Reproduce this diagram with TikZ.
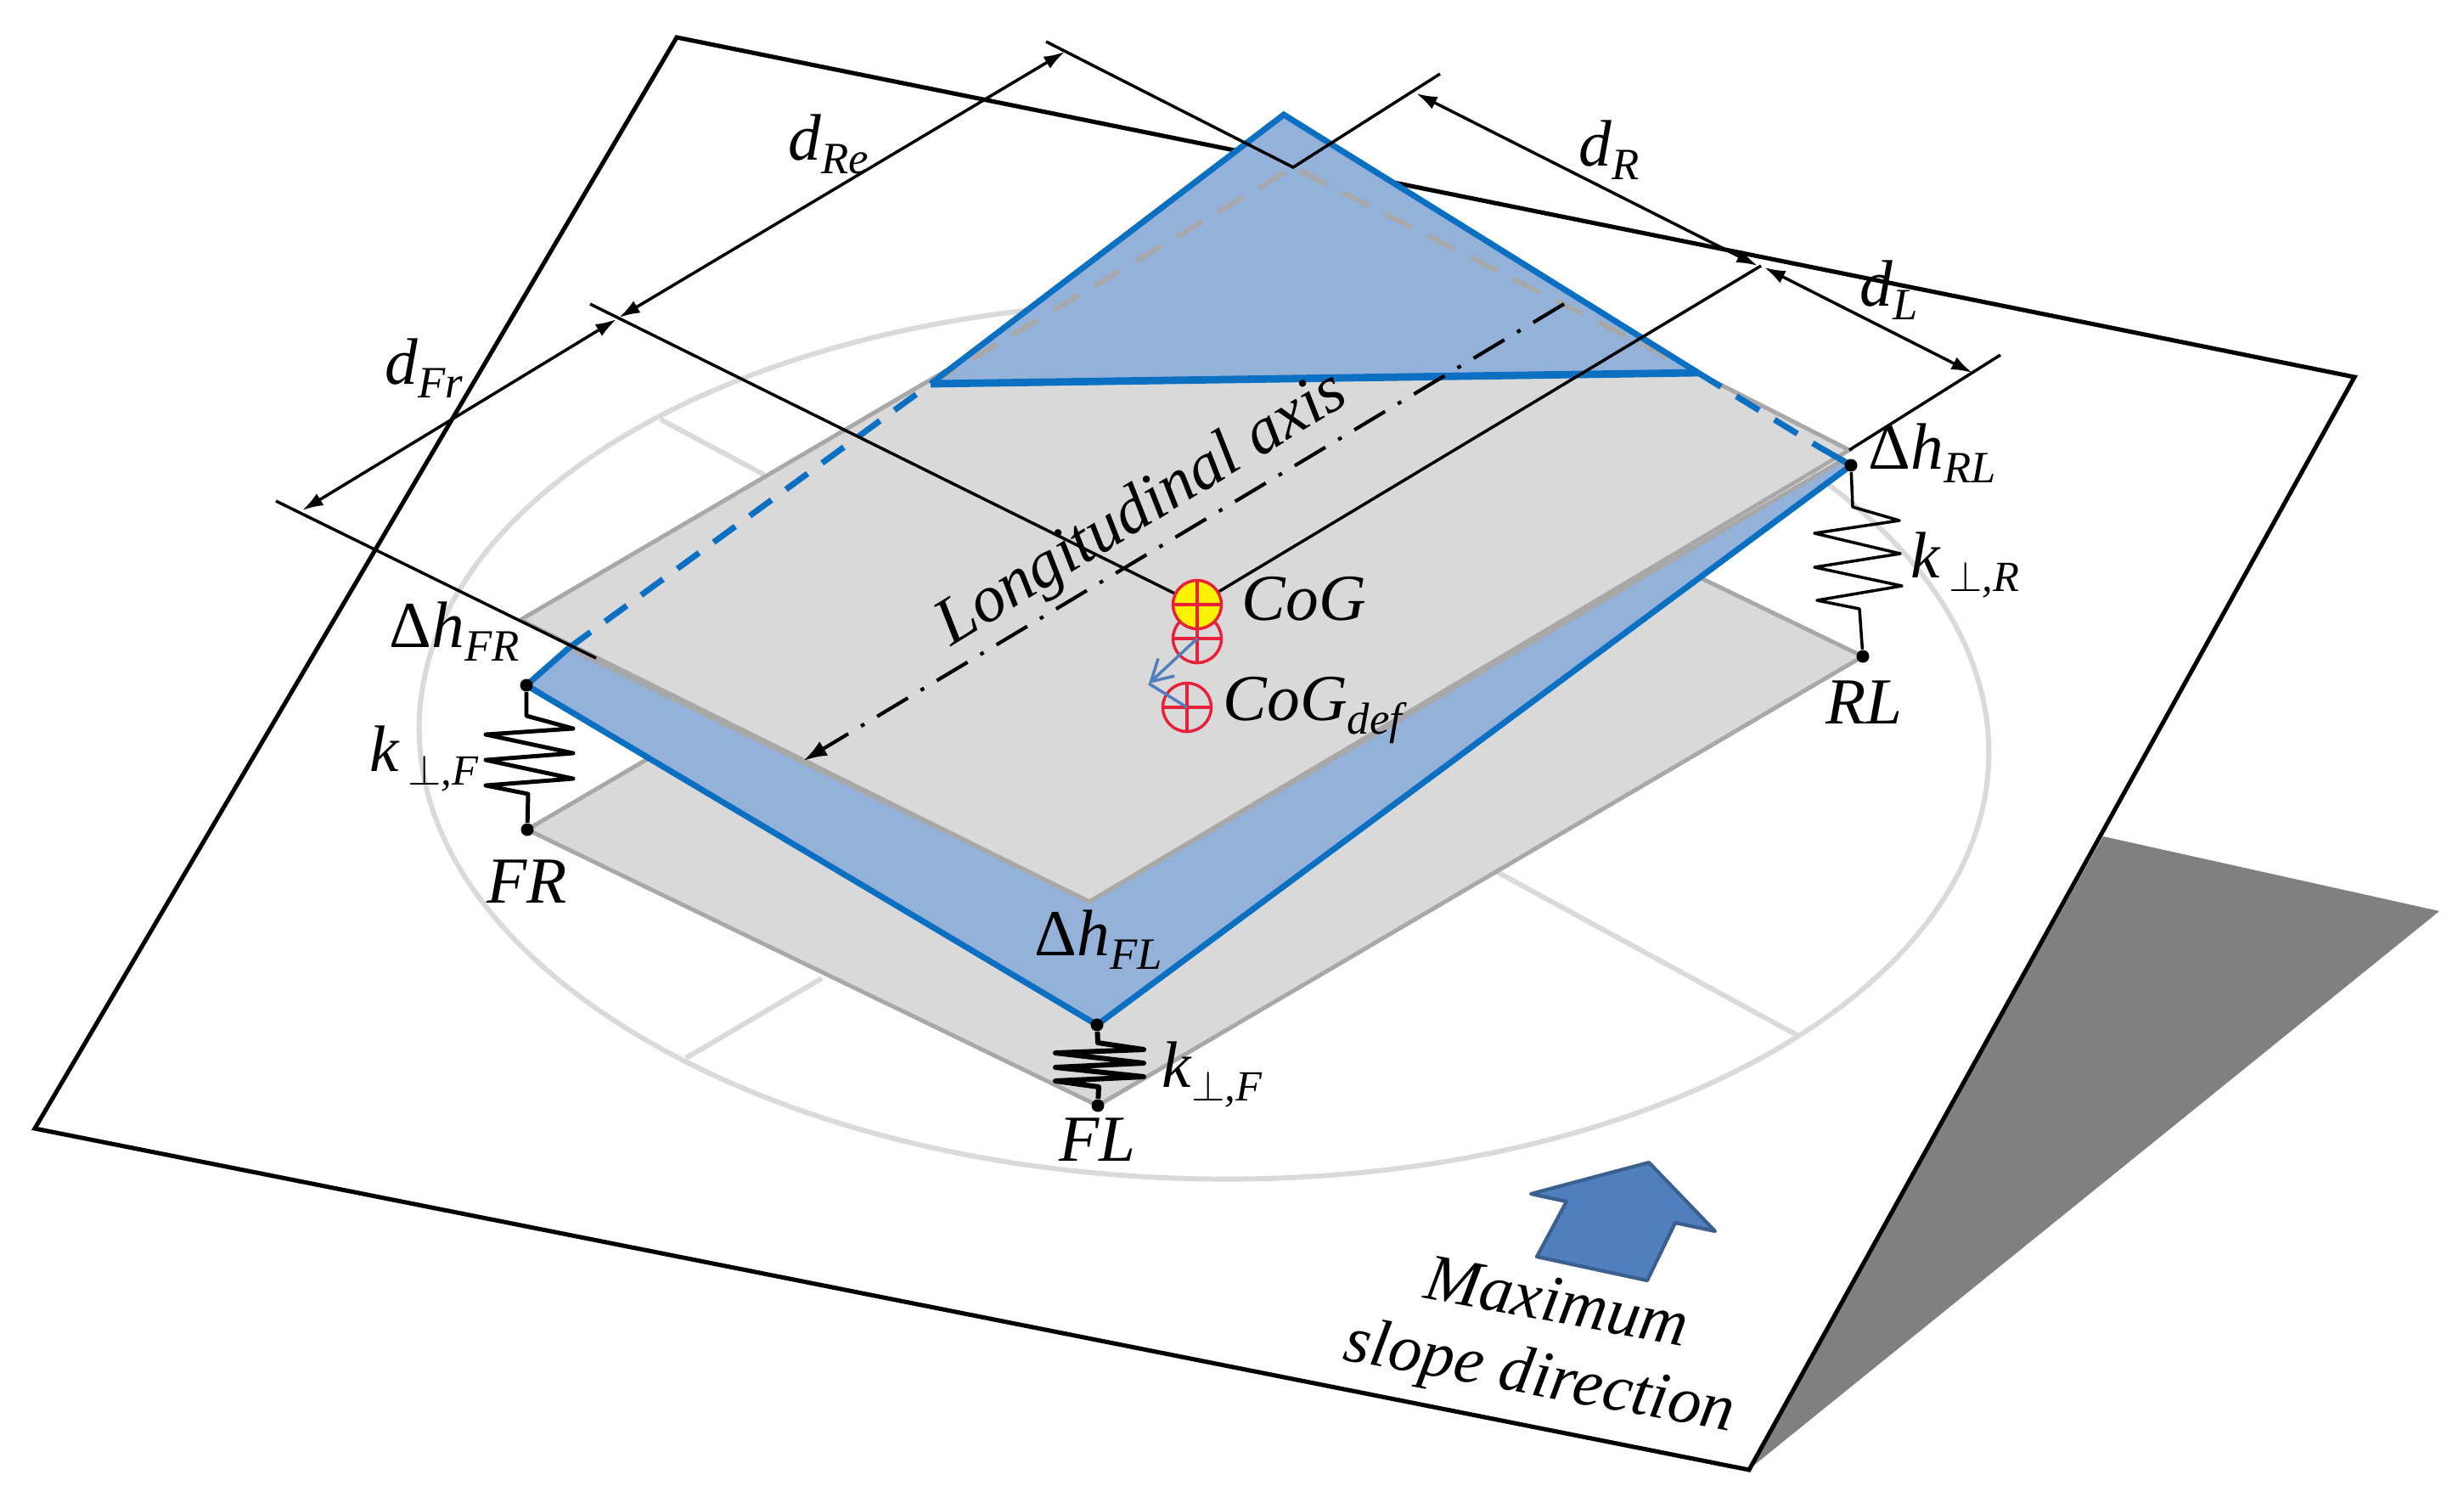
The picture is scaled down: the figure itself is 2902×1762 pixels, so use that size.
\documentclass[tikz,border=0pt]{standalone}
\usepackage{fontspec}
\setmainfont{Liberation Serif}
\usetikzlibrary{arrows.meta}
\colorlet{myshadow}{black!50}
\definecolor{myblue}{HTML}{0B6FC2}
\definecolor{mywedge}{HTML}{93B1D9}
\definecolor{myplate}{HTML}{D9D9D9}
\definecolor{myedge}{HTML}{A8A8A8}
\definecolor{myring}{HTML}{DADADA}
\definecolor{myred}{HTML}{E8213A}
\definecolor{myarrow}{HTML}{4F7FBD}
\newcommand{\sublab}[2]{#1\raisebox{-4.6pt}{\fontsize{15}{15}\selectfont #2}}
\newcommand{\perplab}[2]{k\hspace{#2}\raisebox{-4.6pt}{\fontsize{14.4}{15}\selectfont $\perp$,#1}}
\tikzset{
  >=latex,
  plane/.style={line width=1.45pt,black,fill=white,line join=miter},
  ring/.style={line width=1.7pt,myring},
  plate/.style={line width=1.4pt,draw=myedge,fill=myplate},
  wedge/.style={fill=mywedge},
  edge solid/.style={line width=2pt,myblue},
  edge dashed/.style={edge solid,dash pattern=on 9pt off 6pt},
  edge hidden/.style={line width=1.6pt,myedge,dash pattern=on 10pt off 6pt},
  dim/.style={line width=1pt,black},
  dim arrow/.style={dim,{Latex[length=7pt,width=4.6pt]}-{Latex[length=7pt,width=4.6pt]}},
  axis arrow/.style={line width=1.2pt,black,-{Latex[length=8pt,width=5.5pt]},dash pattern=on 12pt off 5pt on 1.3pt off 5pt},
  spring/.style={line width=1.4pt,black,line join=round},
  dot/.style={circle,fill=black,inner sep=0,minimum size=0.15cm},
  cog mark/.style={circle,draw=myred,line width=1pt,inner sep=0,minimum size=0.57cm},
  cog cross/.style={line width=1pt,myred},
  lab/.style={inner sep=0,anchor=base west,font=\fontsize{22}{26}\selectfont\itshape},
  slanted/.style={inner sep=0,font=\fontsize{22.3}{26}\selectfont\itshape},
}
\begin{document}
\begin{tikzpicture}[x=0.01cm,y=-0.01cm]
    \useasboundingbox (0,0) rectangle (2902,1762);

    % slope and its shadow
    \fill[myshadow] (2477,985) -- (2873,1073) -- (2059,1731) -- cycle;
    \draw[plane] (797,44) -- (2773,444) -- (2060,1731) -- (41,1329) -- cycle;
    \draw[ring,rotate around={-1.3:(1418,872)}] (1418,872) ellipse [x radius=9.24cm,y radius=5.16cm];
    \draw[ring] (778,494) -- (900,559);
    \draw[ring] (1758,1024) -- (2120,1221);
    \draw[ring] (808,1246) -- (968,1152);

    \coordinate (lowFR) at (621,977);
    \coordinate (lowFL) at (1293,1302);
    \coordinate (lowRL) at (2194,773);
    \coordinate (lowRe) at (1522,448);
    \coordinate (topFR) at (620,807);
    \coordinate (topFL) at (1292,1207);
    \coordinate (topRL) at (2180,548);
    \coordinate (topRe) at (1512,135);
    \coordinate (greyFR) at (613,730);
    \coordinate (greyFL) at (1283,1062);
    \coordinate (greyRL) at (2178,530);
    \coordinate (greyRe) at (1523,197);
    \coordinate (cutR) at (670,763);
    \coordinate (cutA) at (1096,452);
    \coordinate (cutB) at (2000,439);

    % plates
    \draw[plate] (lowFR) -- (lowFL) -- (lowRL) -- (lowRe) -- cycle;
    \draw[plate] (greyFR) -- (greyFL) -- (greyRL) -- (greyRe) -- cycle;
    \fill[wedge] (topFR) -- (topFL) -- (topRL) -- (2173,540) -- (greyFL) -- (cutR) -- cycle;
    \draw[myedge,line width=1.4pt] (cutR) -- (greyFL) -- (2173,540);
    \fill[wedge] (cutA) -- (topRe) -- (cutB) -- cycle;
    \draw[edge hidden] (cutA) -- (greyRe) -- (cutB);

    \draw[edge solid] (cutR) -- (topFR) -- (topFL) -- (topRL) -- (2140,525);
    \draw[edge solid] (cutA) -- (topRe) -- (cutB);
    \draw[edge solid,line width=2.5pt] (cutA) -- (cutB);
    \draw[edge dashed] (cutR) -- (cutA);
    \draw[edge dashed] (cutB) -- (2140,525);

    % springs
    \node[dot] (dotFR) at (topFR) {};
    \node[dot] (dotFL) at (topFL) {};
    \node[dot] (dotRL) at (topRL) {};
    \node[dot] (endFR) at (lowFR) {};
    \node[dot] (endFL) at (lowFL) {};
    \node[dot] (endRL) at (lowRL) {};
    \draw[spring] (dotFR) -- (620,843) -- (675,858) -- (572,865) -- (675,887) -- (572,895) -- (675,917) -- (572,925) -- (622,935) -- (endFR);
    \draw[spring,line width=1pt] (dotRL) -- (2182,597) -- (2237,613) -- (2137,628) -- (2238,652) -- (2137,668) -- (2240,690) -- (2140,707) -- (2190,717) -- (endRL);
    \draw[spring,line width=1.7pt] (dotFL) -- (1293,1228) -- (1347,1236) -- (1243,1240) -- (1347,1252) -- (1243,1257) -- (1347,1268) -- (1243,1273) -- (1294,1280) -- (endFL);

    % centre of gravity
    \node[cog mark] (cogB) at (1410,752) {};
    \draw[cog cross] (cogB.north) -- (cogB.south);
    \draw[cog cross] (cogB.west) -- (cogB.east);
    \node[cog mark] (cogC) at (1398,833) {};
    \draw[cog cross] (cogC.north) -- (cogC.south);
    \draw[cog cross] (cogC.west) -- (cogC.east);
    \node[cog mark,fill=yellow] (cog) at (1410,712) {};
    \draw[cog cross] (cog.north) -- (cog.south);
    \draw[cog cross] (cog.west) -- (cog.east);
    \coordinate (shift) at (1353,805);
    \draw[myarrow,line width=1pt,-{Straight Barb[length=7pt,width=8pt]}] (cogB.center) -- (shift);
    \draw[myarrow,line width=1pt] (shift) -- (cogC.center);

    % dimension lines
    \coordinate (extFRa) at (325,590);
    \coordinate (extFRb) at (702,775);
    \coordinate (extMid) at (695,358);
    \coordinate (extReA) at (1232,49);
    \coordinate (extReB) at (1696,87);
    \coordinate (extL) at (2074,313);
    \coordinate (extRa) at (2178,530);
    \coordinate (extRb) at (2356,418);
    \draw[dim] (extFRa) -- (extFRb);
    \draw[dim] (cog) -- (extMid);
    \draw[dim] (extReA) -- (greyRe) -- (extReB);
    \draw[dim] (cog) -- (extL);
    \draw[dim] (extRa) -- (extRb);
    \draw[dim arrow] (356,601) -- (726,376);
    \draw[dim arrow] (729,374) -- (1254,61);
    \draw[dim arrow] (1668,110) -- (2070,313);
    \draw[dim arrow] (2078,315) -- (2323,439);
    \draw[axis arrow] (1842,358) -- (946,896);

    % labels
    \node[lab] (lFr) at (453,452) {\sublab{d}{Fr}};
    \node[lab] (lRe) at (928,188) {\sublab{d}{Re}};
    \node[lab] (lR) at (1859,195) {\sublab{d}{R}};
    \node[lab] (lL) at (2190,360) {\sublab{d}{L}};
    \node[lab] (hFR) at (458,762) {\sublab{\textup{Δ}h}{FR}};
    \node[lab] (hRL) at (2200,552) {\sublab{\textup{Δ}h}{RL}};
    \node[lab] (hFL) at (1218,1125) {\sublab{\textup{Δ}h}{FL}};
    \node[lab] (kFR) at (435,908) {\perplab{F}{3pt}};
    \node[lab] (kRL) at (2250,680) {\perplab{R}{3pt}};
    \node[lab] (kFL) at (1368,1280) {\perplab{F}{0pt}};
    \node[lab] (nFR) at (573,1063) {FR};
    \node[lab] (nFL) at (1247,1367) {FL};
    \node[lab] (nRL) at (2150,852) {RL};
    \node[lab] (lCog) at (1462,730) {CoG};
    \node[lab] (lDef) at (1440,848) {\sublab{CoG}{def}};
    \node[slanted,rotate=31.5] (lAxis) at (1346,601) {Longitudinal axis};

    % slope direction
    \draw[draw=myarrow!75!black,fill=myarrow,line width=1.2pt,line join=round] (1942,1369) -- (2020,1450) -- (1973,1440) -- (1940,1508) -- (1810,1480) -- (1845,1415) -- (1803,1406) -- cycle;
    \node[slanted,rotate=-10.5] (lMax) at (1834,1532) {Maximum};
    \node[slanted,rotate=-10.5] (lSlope) at (1813,1625) {slope direction};
\end{tikzpicture}
\end{document}
